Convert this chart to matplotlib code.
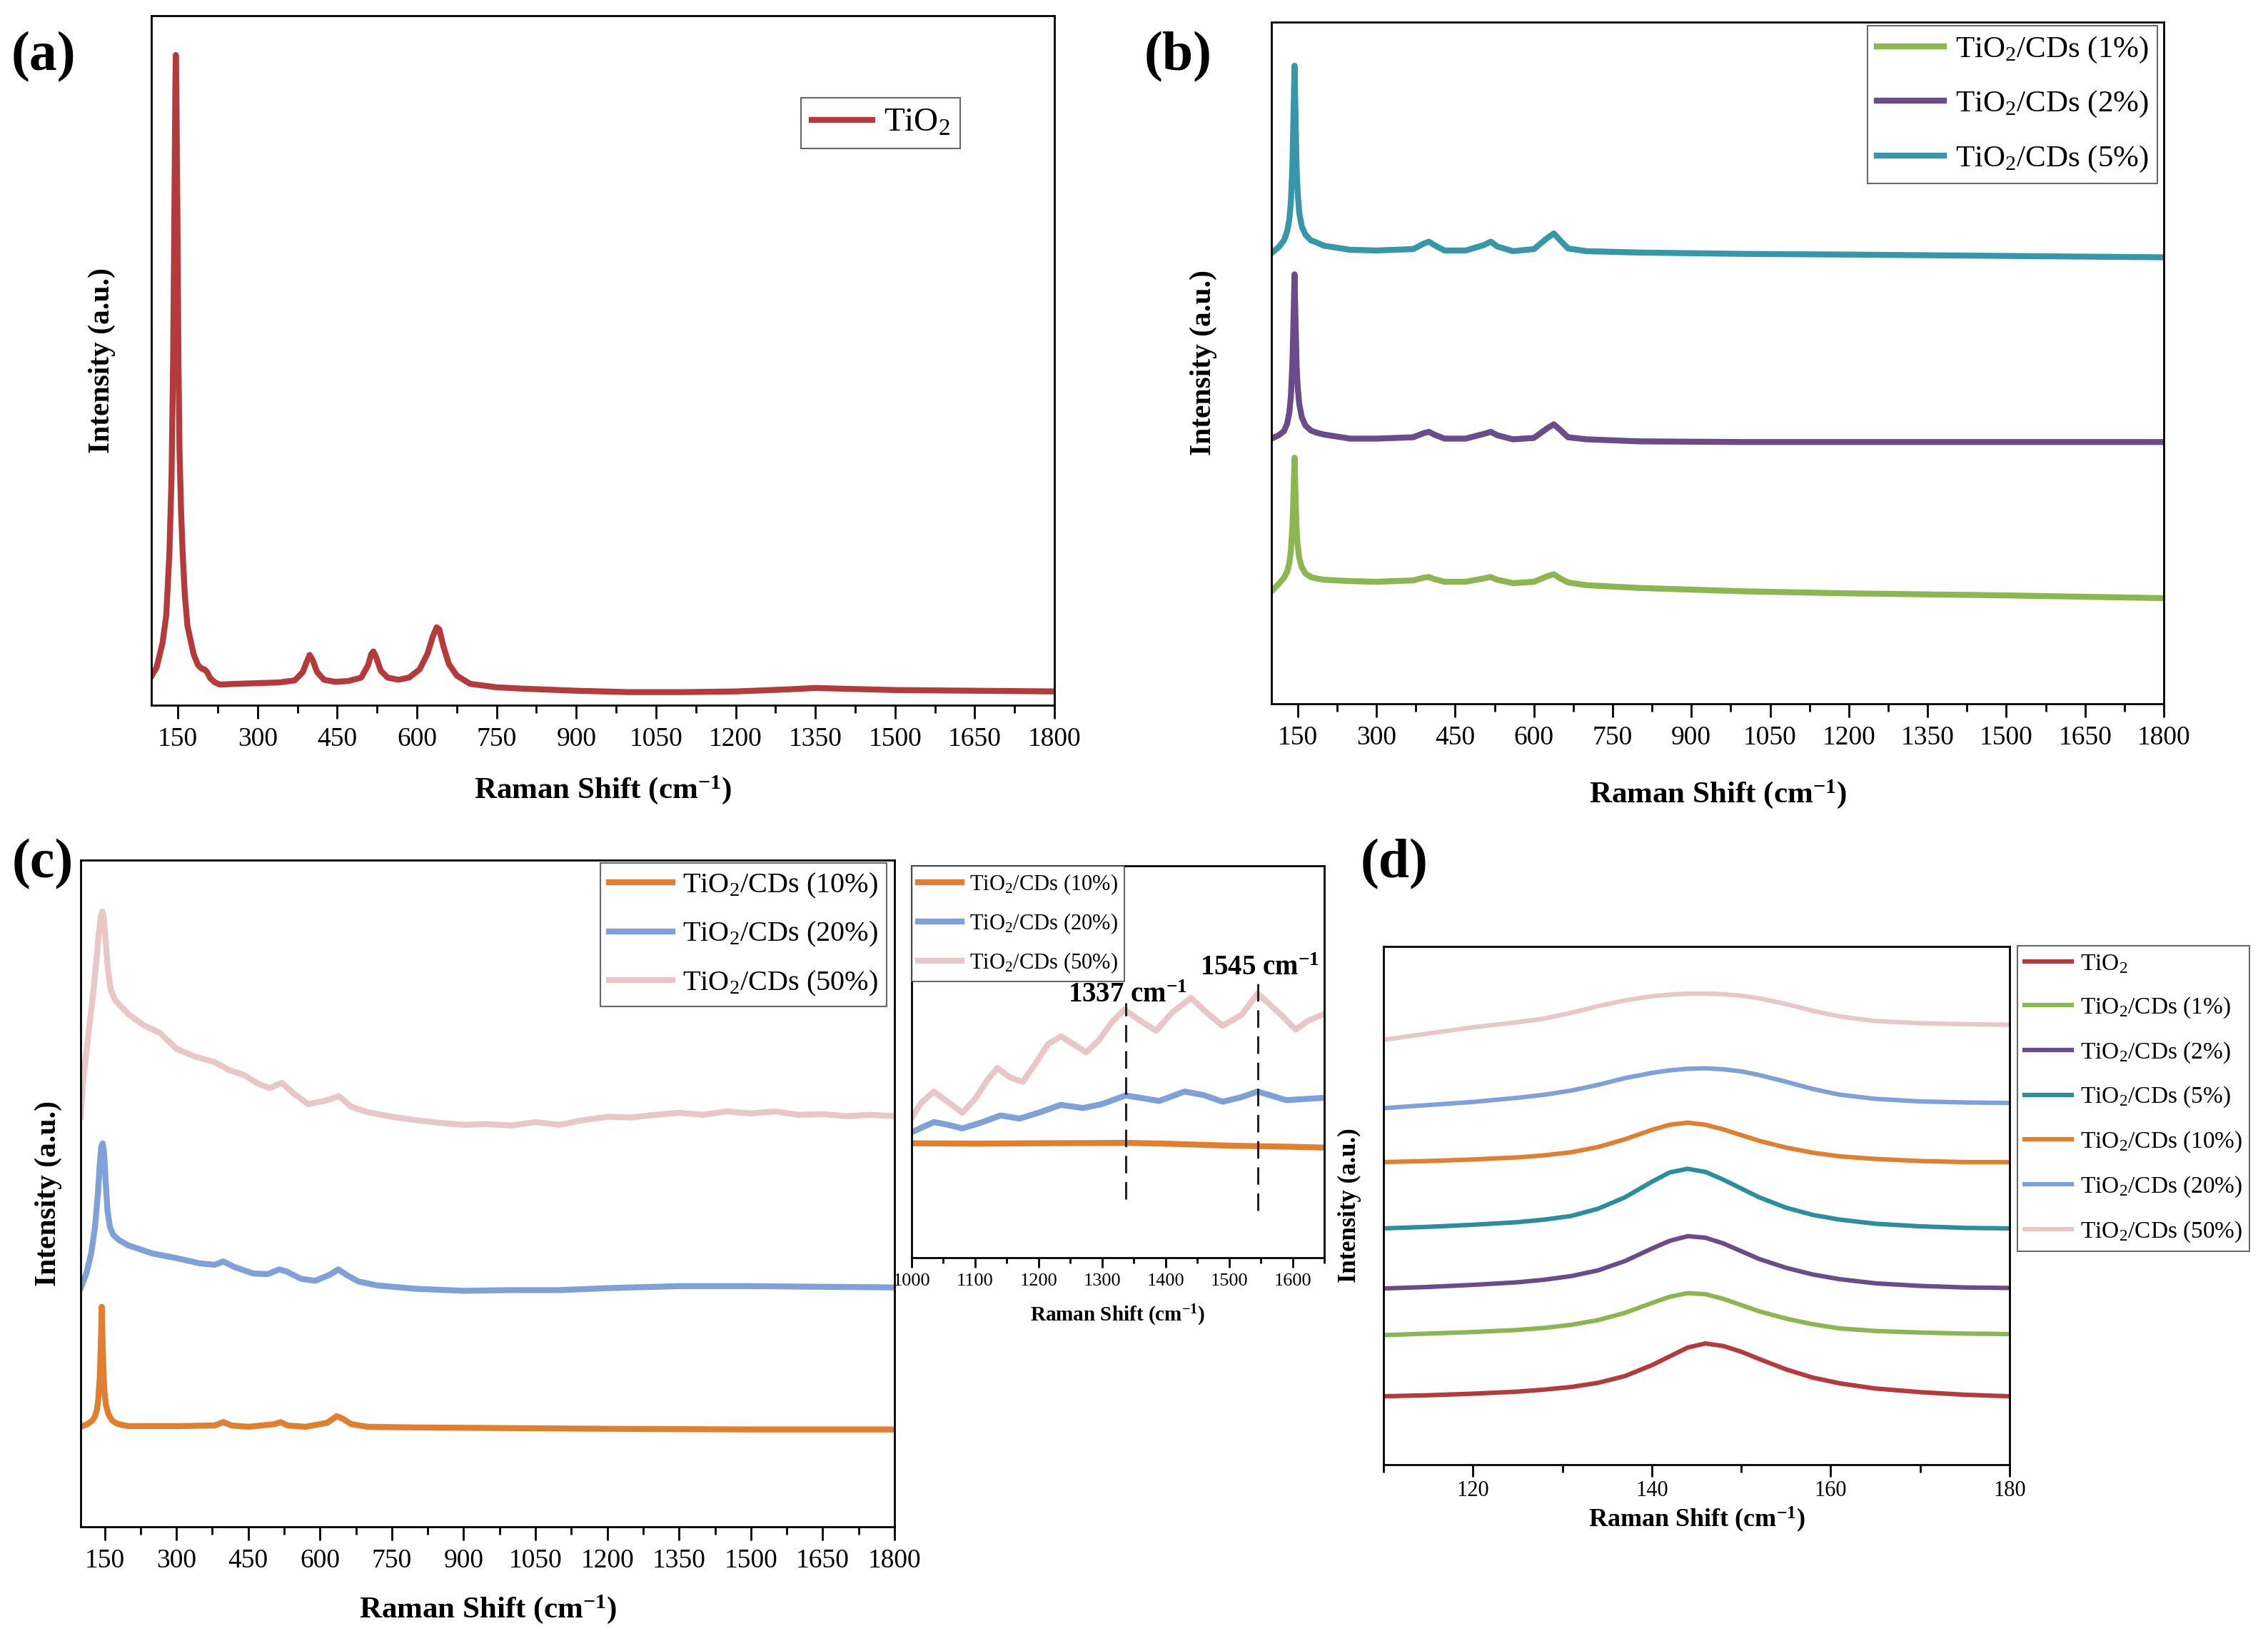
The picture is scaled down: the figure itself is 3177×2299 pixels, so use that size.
import matplotlib
matplotlib.use('Agg')
import matplotlib.pyplot as plt
from matplotlib.ticker import MultipleLocator

plt.rcParams['font.family'] = ['Liberation Serif', 'DejaVu Serif']
plt.rcParams['mathtext.default'] = 'regular'

# colours of the samples
C_TIO2 = '#B43A3B'
C_1 = '#8CB650'
C_2 = '#6A4C8A'
C_5 = '#3597A8'
C_10 = '#E07F30'
C_20 = '#7FA0D8'
C_50 = '#E9C6C8'

XLAB = 'Raman Shift (cm$^{-1}$)'
YLAB = 'Intensity (a.u.)'
labels_b = ['TiO$_2$/CDs (1%)', 'TiO$_2$/CDs (2%)', 'TiO$_2$/CDs (5%)']
labels_c = ['TiO$_2$/CDs (10%)', 'TiO$_2$/CDs (20%)', 'TiO$_2$/CDs (50%)']

# ---- (a) pure TiO2, intensity in % of panel height
a_x = [100, 110, 121, 128, 134, 138, 141, 143, 145, 146, 147, 149, 151, 153, 156, 159,
       163, 168, 175, 180, 188, 195, 200, 205, 211, 220, 229, 260, 300, 340, 370, 385,
       392, 398, 404, 412, 425, 445, 470, 495, 508, 514, 518, 523, 532, 545, 565, 585,
       605, 620, 630, 637, 642, 650, 660, 675, 700, 750, 800, 900, 1000, 1100, 1200,
       1300, 1350, 1400, 1500, 1650, 1800]
a_y = [4.2, 5.5, 9, 13, 22, 33, 50, 68, 88, 94.3, 90, 72, 50, 37, 28, 22,
       16, 11.5, 9, 7.3, 5.8, 5.3, 5.2, 4.8, 3.9, 3.3, 3.0, 3.1, 3.2, 3.3, 3.6, 4.8,
       6.2, 7.3, 6.5, 4.8, 3.7, 3.4, 3.5, 4.0, 5.8, 7.4, 7.8, 7.0, 5.0, 4.0, 3.7, 4.0,
       5.2, 7.5, 10, 11.3, 11, 8.5, 6, 4.3, 3.1, 2.6, 2.4, 2.1, 1.9, 1.9, 2.0,
       2.3, 2.5, 2.4, 2.2, 2.1, 2.0]

# ---- (b) 1 %, 2 %, 5 %
b_x = [100, 114, 124, 130, 134, 137, 140, 142, 144, 146, 148, 150, 153, 158, 165, 175,
       185, 200, 250, 300, 370, 390, 400, 410, 430, 470, 505, 518, 530, 560, 600, 625,
       638, 650, 665, 700, 800, 1000, 1200, 1500, 1800]
b1_y = [16.5, 17.6, 18.5, 19.4, 20.6, 22.4, 26, 30.5, 36.1, 30.5, 25.5, 23.3, 21.4, 20.0, 19.1, 18.6,
        18.4, 18.2, 18.0, 17.9, 18.1, 18.5, 18.6, 18.3, 17.9, 17.9, 18.4, 18.6, 18.2, 17.7, 17.9, 18.7,
        19.0, 18.4, 17.8, 17.4, 17.0, 16.5, 16.2, 15.9, 15.5]
b2_y = [38.9, 39.4, 40.0, 41.1, 42.7, 45, 50, 56, 63, 56, 49.5, 46.5, 44, 42, 40.8, 40.1,
        39.8, 39.5, 38.9, 38.9, 39.1, 39.7, 39.9, 39.5, 38.9, 38.9, 39.6, 39.9, 39.4, 38.8, 39.0, 40.4,
        41, 40.2, 39.1, 38.8, 38.5, 38.4, 38.4, 38.4, 38.4]
b5_y = [66.1, 67.0, 68.0, 69.3, 71.0, 73.5, 79, 86, 93.6, 86, 78.5, 75, 72, 70, 68.8, 68.0,
        67.7, 67.2, 66.6, 66.5, 66.7, 67.5, 67.8, 67.3, 66.5, 66.5, 67.3, 67.8, 67.1, 66.4, 66.7, 68.3,
        69, 68, 66.8, 66.4, 66.2, 66.0, 65.9, 65.7, 65.5]

# ---- (c) 10 %, 20 %, 50 %
c10_x = [100, 114, 124, 130, 134, 137, 140, 142, 144, 146, 148, 150, 153, 158, 165, 175,
         185, 200, 300, 380, 398, 415, 450, 505, 518, 532, 570, 615, 635, 648, 665, 700,
         800, 1000, 1200, 1500, 1800]
c10_y = [15.0, 15.4, 15.9, 16.6, 17.6, 19.2, 22.5, 27, 33, 27, 22.3, 20.0, 18.2, 16.9, 16.0, 15.5,
         15.3, 15.1, 15.1, 15.2, 15.7, 15.2, 15.0, 15.4, 15.7, 15.2, 15.0, 15.6, 16.6, 16.2, 15.4, 15.0,
         14.9, 14.8, 14.7, 14.6, 14.6]
c20_x = [100, 112, 122, 130, 136, 140, 143, 146, 149, 152, 156, 161, 168, 180, 200, 250,
         300, 350, 380, 398, 420, 460, 490, 515, 530, 560, 590, 620, 638, 655, 680, 720,
         800, 900, 1000, 1100, 1200, 1350, 1500, 1650, 1800]
c20_y = [35.8, 38, 41, 45, 50, 54.5, 57, 57.5, 56, 52, 47.5, 45, 43.8, 43, 42.2, 41,
         40.3, 39.5, 39.3, 39.8, 39.0, 38.0, 37.9, 38.6, 38.3, 37.2, 36.9, 37.8, 38.6, 37.8, 36.8, 36.2,
         35.7, 35.4, 35.5, 35.5, 35.8, 36.1, 36.1, 36.0, 35.9]
c50_x = [100, 104, 110, 118, 126, 133, 138, 142, 145, 148, 152, 157, 163, 172, 185, 200,
         230, 265, 300, 340, 380, 410, 440, 470, 495, 520, 545, 575, 610, 640, 665, 700,
         750, 800, 850, 900, 950, 1000, 1050, 1100, 1150, 1200, 1250, 1300, 1350, 1400,
         1450, 1500, 1550, 1600, 1650, 1700, 1750, 1800]
c50_y = [61.5, 66, 70, 75, 80, 85, 89, 91.5, 92.3, 91.5, 88, 83.5, 80.5, 79, 78, 76.9,
         75.3, 74.1, 71.7, 70.5, 69.7, 68.5, 67.8, 66.5, 65.8, 66.6, 65.0, 63.4, 63.9, 64.6, 63.0, 62.2,
         61.5, 61.0, 60.6, 60.3, 60.4, 60.2, 60.7, 60.3, 61.0, 61.5, 61.4, 61.8, 62.1, 61.8,
         62.3, 62.0, 62.3, 61.8, 61.9, 61.6, 61.8, 61.6]

# ---- (c) inset 1000-1650 cm-1
in10_x = [1000, 1100, 1200, 1337, 1400, 1500, 1600, 1650]
in10_y = [29.2, 29.1, 29.2, 29.3, 29.1, 28.6, 28.3, 28.1]
in20_x = [1000, 1020, 1035, 1055, 1080, 1110, 1140, 1170, 1200, 1235, 1270, 1300, 1337,
          1360, 1390, 1430, 1460, 1490, 1520, 1545, 1570, 1590, 1620, 1650]
in20_y = [32.0, 33.5, 34.6, 34.0, 33.0, 34.5, 36.3, 35.5, 37.0, 39.0, 38.2, 39.2, 41.4,
          40.8, 40.0, 42.4, 41.5, 39.8, 41.0, 42.4, 41.2, 40.2, 40.5, 40.8]
in50_x = [1000, 1015, 1035, 1055, 1080, 1100, 1120, 1135, 1155, 1175, 1195, 1215, 1235,
          1255, 1275, 1295, 1315, 1335, 1360, 1385, 1410, 1440, 1465, 1490, 1520, 1545,
          1565, 1585, 1605, 1625, 1650]
in50_y = [35.7, 39.5, 42.4, 40.0, 37.0, 40.5, 45.5, 48.4, 46.0, 44.9, 49.5, 54.5, 56.5,
          54.5, 52.4, 55.5, 60.0, 63.3, 60.5, 57.9, 62.5, 66.3, 62.5, 59.2, 62.0, 67.4,
          64.5, 61.5, 58.2, 60.5, 62.2]
marks = [1337, 1545]
mark_lo = [14.9, 12.0]
mark_hi = [65.0, 72.0]

# ---- (d) zoom of the 144 cm-1 band, all samples
d_labels = ['TiO$_2$'] + labels_b + labels_c
d_colors = [C_TIO2, C_1, C_2, '#2A8E9E', C_10, C_20, C_50]
d_x = [110, 115, 120, 125, 128, 131, 134, 137, 140, 142, 144, 146, 148, 150, 152, 155,
       158, 161, 165, 170, 175, 180]
d_tio2 = [13.2, 13.4, 13.7, 14.1, 14.5, 15.0, 15.8, 17.1, 19.2, 20.9, 22.6, 23.4, 22.9, 21.8, 20.4, 18.4,
          16.8, 15.7, 14.7, 14.0, 13.5, 13.2]
d_1 = [25.0, 25.3, 25.6, 26.0, 26.4, 27.0, 27.9, 29.3, 31.2, 32.4, 33.1, 32.9, 32.0, 30.8, 29.6, 28.2,
       27.1, 26.3, 25.8, 25.5, 25.3, 25.2]
d_2 = [34.0, 34.3, 34.7, 35.2, 35.7, 36.4, 37.5, 39.3, 41.7, 43.2, 44.1, 43.8, 42.7, 41.2, 39.7, 38.0,
       36.7, 35.8, 35.0, 34.5, 34.2, 34.1]
d_5 = [45.6, 45.9, 46.3, 46.8, 47.3, 48.0, 49.4, 51.6, 54.6, 56.4, 57.1, 56.5, 55.0, 53.3, 51.6, 49.6,
       48.2, 47.3, 46.5, 46.0, 45.7, 45.6]
d_10 = [58.4, 58.6, 58.9, 59.3, 59.7, 60.3, 61.3, 62.8, 64.6, 65.6, 66.0, 65.6, 64.7, 63.6, 62.5, 61.2,
        60.2, 59.5, 59.0, 58.6, 58.4, 58.4]
d_20 = [68.8, 69.4, 70.0, 70.8, 71.4, 72.2, 73.3, 74.6, 75.6, 76.1, 76.4, 76.5, 76.3, 75.9, 75.2, 73.9,
        72.5, 71.4, 70.6, 70.1, 69.9, 69.8]
d_50 = [82.0, 83.2, 84.4, 85.4, 86.1, 87.2, 88.5, 89.6, 90.4, 90.7, 90.9, 90.9, 90.8, 90.5, 90.0, 88.9,
        87.6, 86.5, 85.6, 85.2, 85.0, 84.9]
d_series = [d_tio2, d_1, d_2, d_5, d_10, d_20, d_50]

W, H = 3177, 2299
fig = plt.figure(figsize=(W / 100, H / 100), dpi=100)


def box(l, r, t, b):
    return [l / W, 1 - b / H, (r - l) / W, (b - t) / H]


def style(ax, xlim, major, minor, fs, big=14, small=8, pad=8):
    ax.set_xlim(*xlim)
    ax.set_ylim(0, 100)
    ax.set_yticks([])
    ax.xaxis.set_major_locator(MultipleLocator(major))
    ax.xaxis.set_minor_locator(MultipleLocator(minor))
    ax.tick_params(axis='x', which='major', direction='out', length=big, width=2,
                   labelsize=fs, pad=pad)
    ax.tick_params(axis='x', which='minor', direction='out', length=small, width=2)
    for s in ax.spines.values():
        s.set_linewidth(2)


def legend(ax, fs, **kw):
    kw.setdefault('handlelength', 2.2)
    kw.setdefault('handletextpad', 0.35)
    kw.setdefault('borderpad', 0.3)
    lg = ax.legend(fontsize=fs, frameon=True, fancybox=False, borderaxespad=0, **kw)
    lg.get_frame().set_edgecolor('#444444')
    lg.get_frame().set_linewidth(1.5)
    return lg


LW = 6

# (a)
ax = fig.add_axes(box(212, 1477, 22, 988))
ax.plot(a_x, a_y, color=C_TIO2, lw=LW, label='TiO$_2$')
style(ax, (100, 1800), 150, 75, 27)
ax.set_xlabel(XLAB, fontsize=31, fontweight='bold', labelpad=22)
ax.set_ylabel(YLAB, fontsize=30, fontweight='bold', labelpad=36)
legend(ax, 34, loc='upper right', bbox_to_anchor=(0.896, 0.881), handlelength=1.8)

# (b)
ax = fig.add_axes(box(1781, 3031, 31, 986))
for yy, c, lab in zip([b1_y, b2_y, b5_y], [C_1, C_2, C_5], labels_b):
    ax.plot(b_x, yy, color=c, lw=LW, label=lab)
style(ax, (100, 1800), 150, 75, 27)
ax.set_xlabel(XLAB, fontsize=31, fontweight='bold', labelpad=28)
ax.set_ylabel(YLAB, fontsize=30, fontweight='bold', labelpad=55)
legend(ax, 31, loc='upper right', bbox_to_anchor=(0.993, 0.995), labelspacing=0.8)

# (c) main
ax = fig.add_axes(box(113, 1253, 1205, 2139))
ax.plot(c10_x, c10_y, color=C_10, lw=LW, label=labels_c[0])
ax.plot(c20_x, c20_y, color=C_20, lw=LW, label=labels_c[1])
ax.plot(c50_x, c50_y, color=C_50, lw=LW, label=labels_c[2])
style(ax, (100, 1800), 150, 75, 27)
ax.set_xlabel(XLAB, fontsize=31, fontweight='bold', labelpad=20)
ax.set_ylabel(YLAB, fontsize=30, fontweight='bold', labelpad=19)
legend(ax, 29, loc='upper right', bbox_to_anchor=(0.99, 0.996), labelspacing=0.7)

# (c) inset
ax = fig.add_axes(box(1277, 1855, 1213, 1762))
ax.plot(in10_x, in10_y, color=C_10, lw=LW, label=labels_c[0])
ax.plot(in20_x, in20_y, color=C_20, lw=LW, label=labels_c[1])
ax.plot(in50_x, in50_y, color=C_50, lw=LW, label=labels_c[2])
for m, lo, hi in zip(marks, mark_lo, mark_hi):
    ax.plot([m, m], [lo, hi], color='#222222', lw=2.2, ls=(0, (8, 4)))
    ax.text(m + 3, hi - 1.5, f'{m} cm$^{{-1}}$', fontsize=28, fontweight='bold',
            ha='center', va='bottom')
style(ax, (1000, 1650), 100, 50, 19, big=10, small=6, pad=6)
ax.set_xlabel(XLAB, fontsize=21, fontweight='bold', labelpad=14)
legend(ax, 22, loc='upper left', bbox_to_anchor=(0, 1), handlelength=2.0, labelspacing=0.7)

# (d)
ax = fig.add_axes(box(1938, 2815, 1326, 2052))
for yy, c, lab in zip(d_series, d_colors, d_labels):
    ax.plot(d_x, yy, color=c, lw=4.5, label=lab)
style(ax, (110, 180), 20, 10, 22, big=12, small=8, pad=4)
ax.set_xlabel(XLAB, fontsize=26, fontweight='bold', labelpad=4)
ax.set_ylabel(YLAB, fontsize=25, fontweight='bold', labelpad=22)
legend(ax, 24, loc='upper left', bbox_to_anchor=(1.012, 1.001), labelspacing=0.85,
       handlelength=2.0)

# panel letters
for lab, x, y in [('(a)', 61, 80), ('(b)', 1650, 80), ('(c)', 60, 1211), ('(d)', 1953, 1211)]:
    fig.text(x / W, 1 - y / H, lab, fontsize=56, fontweight='bold', ha='center', va='center')

fig.savefig('out.png', dpi=100)
